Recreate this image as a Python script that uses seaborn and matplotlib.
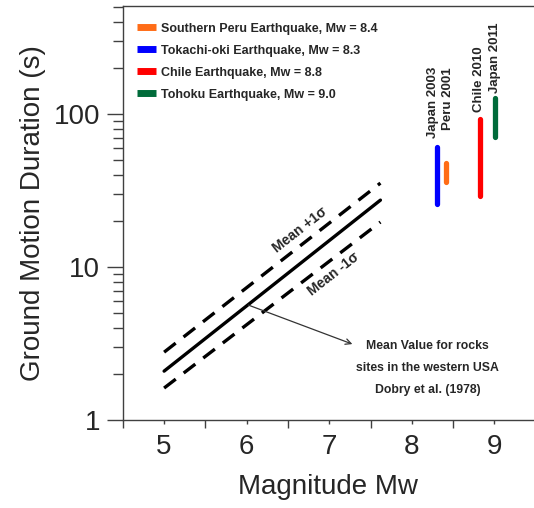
import matplotlib
matplotlib.use('Agg')
import matplotlib.pyplot as plt
from matplotlib.lines import Line2D
import pandas as pd
import seaborn as sns

# Dobry et al. (1978) mean duration and +/- 1 sigma
mw_fit = [5.0, 7.62]
mean_dur = [2.09, 27.4]
plus_sigma = [2.78, 35.4]
minus_sigma = [1.62, 19.7]

# observed duration ranges for the large events
events = ['Southern Peru Earthquake, Mw = 8.4',
          'Tokachi-oki Earthquake, Mw = 8.3',
          'Chile Earthquake, Mw = 8.8',
          'Tohoku Earthquake, Mw = 9.0']
event_tags = ['Peru 2001', 'Japan 2003', 'Chile 2010', 'Japan 2011']
event_mw = [8.42, 8.31, 8.82, 9.01]
dur_low = [36.0, 25.8, 29.1, 70.6]
dur_high = [47.8, 60.9, 92.8, 127.0]
event_colors = ['#ff6c17', '#0000ff', '#ff0000', '#006b3a']

x_labels = [5, 6, 7, 8, 9]

sns.set_style('ticks')
plt.rcParams['font.family'] = ['Liberation Sans', 'DejaVu Sans']

fig = plt.figure(figsize=(5.34, 5.08), dpi=100)
ax = fig.add_axes([0.230, 0.173, 0.770, 0.815])

# Dobry lines
fit = pd.DataFrame({'Mw': mw_fit, 'mean': mean_dur, 'plus': plus_sigma, 'minus': minus_sigma})
sns.lineplot(data=fit, x='Mw', y='mean', ax=ax, color='black', lw=2.4)
sns.lineplot(data=fit, x='Mw', y='plus', ax=ax, color='black', lw=2.4, linestyle=(0, (4.4, 3.0)))
sns.lineplot(data=fit, x='Mw', y='minus', ax=ax, color='black', lw=2.4, linestyle=(0, (4.4, 3.0)))

# event duration bars
for mw, lo, hi, c in zip(event_mw, dur_low, dur_high, event_colors):
    seg = pd.DataFrame({'Mw': [mw, mw], 'dur': [lo, hi]})
    sns.lineplot(data=seg, x='Mw', y='dur', ax=ax, color=c, lw=3.8,
                 estimator=None, sort=False, solid_capstyle='round')

# rotated tags above the bars
tag_x = [8.44, 8.26, 8.81, 9.01]
tag_y = [78.6, 69.7, 103, 137]
for tx, ty, t in zip(tag_x, tag_y, event_tags):
    ax.text(tx, ty, t, rotation=90, ha='center', va='bottom',
            fontsize=9.5, fontweight='bold')

ax.text(6.65, 17.5, 'Mean +1σ', rotation=38, rotation_mode='anchor',
        ha='center', va='center', fontsize=10, fontweight='bold')
ax.text(7.05, 9.0, 'Mean -1σ', rotation=38, rotation_mode='anchor',
        ha='center', va='center', fontsize=10, fontweight='bold')

ax.annotate('', xy=(7.28, 3.14), xytext=(6.02, 5.65),
            arrowprops=dict(arrowstyle='->', lw=0.9, color='#333333',
                            shrinkA=0, shrinkB=0))
ax.text(8.19, 2.19, 'Mean Value for rocks\nsites in the western USA\nDobry et al. (1978)',
        ha='center', va='center', fontsize=8.8, fontweight='bold', linespacing=2.15)

handles = [Line2D([0], [0], color=c, lw=5, solid_capstyle='butt') for c in event_colors]
leg = ax.legend(handles, events, loc='upper left', bbox_to_anchor=(0.034, 0.960),
                frameon=False, borderpad=0, borderaxespad=0, handlelength=1.55,
                handletextpad=0.35, labelspacing=0.8,
                prop={'size': 9, 'weight': 'bold'})

ax.set_yscale('log')
ax.set_ylim(1, 508)
ax.set_xlim(4.5, 9.48)
ax.set_yticks([1, 10, 100])
ax.set_yticklabels(['1', '10', '100'])
ax.set_xticks([4.5, 5.5, 6.5, 7.5, 8.5])
ax.set_xticklabels([])
ax.set_xticks(x_labels, minor=True)
ax.set_xticklabels([str(v) for v in x_labels], minor=True)

ax.tick_params(axis='y', which='major', direction='out', length=11.5, width=1, pad=5,
               labelsize=20, color='#404040')
ax.tick_params(axis='y', which='minor', direction='out', length=7, width=1, color='#404040')
ax.tick_params(axis='x', which='major', direction='out', length=6, width=1, color='#404040')
ax.tick_params(axis='x', which='minor', direction='out', length=3, width=1, pad=7,
               labelsize=20, color='#404040')

ax.set_xlabel('Magnitude Mw', fontsize=20, labelpad=10)
ax.set_ylabel('Ground Motion Duration (s)', fontsize=20, labelpad=5)

for s in ['left', 'bottom', 'top']:
    ax.spines[s].set_color('#404040')
    ax.spines[s].set_linewidth(1)
ax.spines['right'].set_visible(False)

fig.savefig('out.png', dpi=100)
